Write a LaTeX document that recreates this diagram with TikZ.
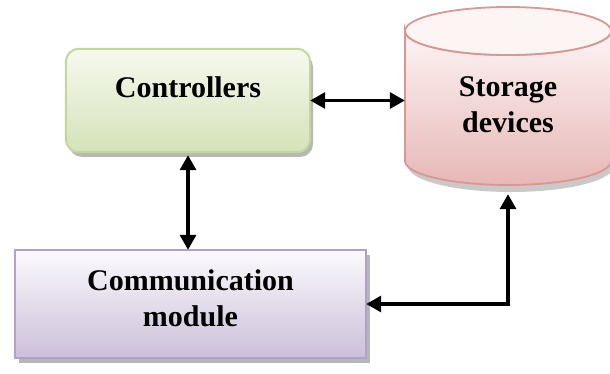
\documentclass[tikz,border=0pt]{standalone}
\usepackage{fontspec}
\setmainfont{Liberation Serif}
\usetikzlibrary{arrows.meta,calc}
\definecolor{grnB}{HTML}{C3D69B}
\definecolor{grnT}{HTML}{F6F9EF}
\definecolor{grnD}{HTML}{D5E2B9}
\definecolor{pnkB}{HTML}{D99694}
\definecolor{pnkT}{HTML}{FDF4F4}
\definecolor{pnkD}{HTML}{E6B7B6}
\definecolor{purB}{HTML}{B2A1C7}
\definecolor{purT}{HTML}{FBFAFD}
\definecolor{purD}{HTML}{CBBFD9}
\definecolor{shd}{HTML}{A6A6A6}
\tikzset{
  lbl/.style={font=\fontsize{30}{36}\selectfont\bfseries, align=center, text=black},
  arr/.style={line width=3.2pt, {Triangle[length=15pt,width=16pt]}-{Triangle[length=15pt,width=16pt]}},
  boxshape/.style={draw=none, inner sep=0pt}
}
\begin{document}
\begin{tikzpicture}[x=1pt,y=-1pt]
\useasboundingbox (0,0) rectangle (610,374);
\fill[white] (0,0) rectangle (610,374);
% shadows
\fill[shd, opacity=0.8, rounded corners=13pt] (69,54) rectangle (313,157);
\fill[shd, opacity=0.8] (19,255) rectangle (370,363);
\fill[shd, opacity=0.6] (408,161) -- (408,166) arc[start angle=180,end angle=0,x radius=103,y radius=26] -- (614,161) -- cycle;
% Controllers
\node[boxshape, minimum width=244pt, minimum height=103pt] (ctrl) at (188,100.5) {};
\shade[top color=grnT, bottom color=grnD, draw=grnB, line width=2pt, rounded corners=13pt]
  (ctrl.north west) rectangle (ctrl.south east);
\node[lbl] (ctrltxt) at (188,87) {Controllers};
% Communication module
\node[boxshape, minimum width=351pt, minimum height=108pt] (comm) at (190.5,304) {};
\shade[top color=purT, bottom color=purD, draw=purB, line width=2pt]
  (comm.north west) rectangle (comm.south east);
\node[lbl] (commtxt) at (190.5,298) {Communication\\module};
% Storage cylinder
\node[boxshape, minimum width=206pt, minimum height=178pt] (stor) at (508,96) {};
\shade[top color=pnkT, bottom color=pnkD, draw=pnkB, line width=1.8pt]
  (405,31) -- (405,161) arc[start angle=180,end angle=0,x radius=103,y radius=24] -- (611,31)
  arc[start angle=0,end angle=180,x radius=103,y radius=24] -- cycle;
\filldraw[fill=pnkT, draw=pnkB, line width=1.8pt] (508,31) ellipse[x radius=103, y radius=24];
\node[lbl] (stortxt) at (508,105) {Storage\\devices};
% connectors
\draw[arr] (ctrl.east) -- (ctrl.east -| stor.west);
\draw[arr] ($(ctrl.south)+(0,3)$) -- (ctrl.south |- comm.north);
\draw[arr] (comm.east) -| ($(stor.south)+(0,9)$);
\end{tikzpicture}
\end{document}
